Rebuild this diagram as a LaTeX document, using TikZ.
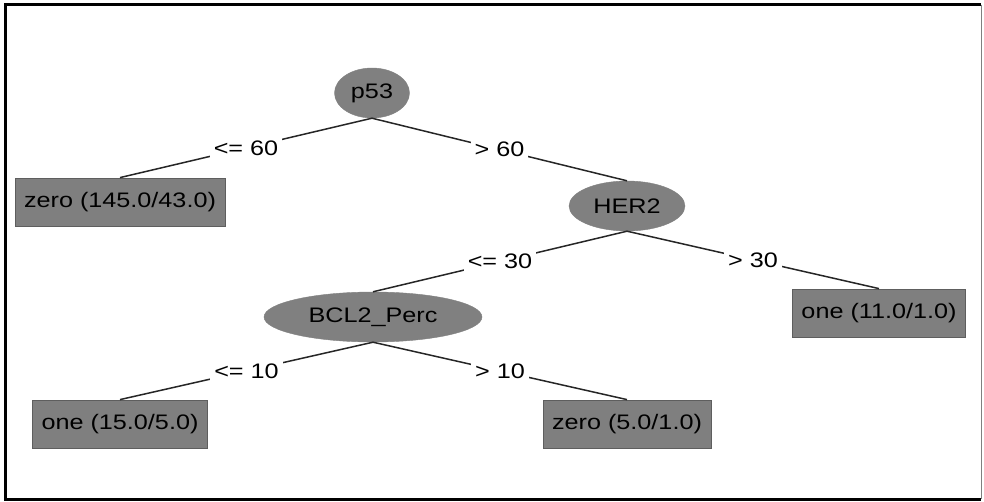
\documentclass[tikz,border=0pt]{standalone}
\usepackage{fontspec}
\setmainfont{Liberation Sans}[FakeStretch=1.2]
\usepackage{tikz}
\usetikzlibrary{shapes}
\definecolor{splitgray}{HTML}{808080}
\definecolor{leafgray}{HTML}{7F7F7F}
\definecolor{rimgray}{HTML}{5E5E5E}

\begin{document}
\begin{tikzpicture}[x=1pt, y=-1pt,
            every node/.style={font=\fontsize{21}{25}\selectfont, text=black},
            split/.style={ellipse, fill=splitgray, draw=splitgray, inner sep=0pt, minimum height=50pt},
            leaf/.style={rectangle, fill=leafgray, draw=rimgray, line width=0.8pt, inner xsep=9pt, minimum height=48pt},
            cond/.style={fill=white, inner sep=4pt},
            branch/.style={draw=black!85, line width=1.5pt}]
            \useasboundingbox (0,0) rectangle (984,502);
            % frame
            \draw[black, line width=3pt] (981,5) -- (5,5) -- (5,499) -- (981,499);
            \draw[gray, line width=1pt] (981,5) -- (981,499);
            % tree
            \node[split, minimum width=75pt] at (372,93) (p53) {p53};
            \node[leaf] at (120,202) (zeroA) {zero (145.0/43.0)};
            \node[split, minimum width=116pt] at (627,206) (her2) {HER2};
            \node[split, minimum width=218pt] at (373,317) (bcl2) {BCL2\_Perc};
            \node[leaf] at (879,313) (oneA) {one (11.0/1.0)};
            \node[leaf] at (120,424) (oneB) {one (15.0/5.0)};
            \node[leaf] at (627,424) (zeroB) {zero (5.0/1.0)};
            \draw[branch] (p53.south) -- node[cond] {<= 60} (zeroA.north);
            \draw[branch] (p53.south) -- node[cond] {> 60} (her2.north);
            \draw[branch] (her2.south) -- node[cond] {<= 30} (bcl2.north);
            \draw[branch] (her2.south) -- node[cond] {> 30} (oneA.north);
            \draw[branch] (bcl2.south) -- node[cond] {<= 10} (oneB.north);
            \draw[branch] (bcl2.south) -- node[cond] {> 10} (zeroB.north);
        \end{tikzpicture}
\end{document}
